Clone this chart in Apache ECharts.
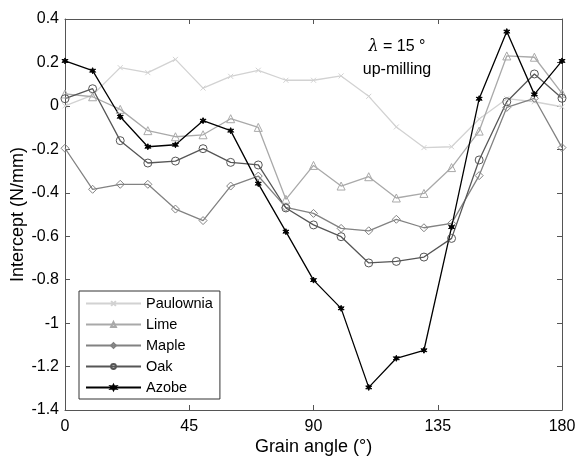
<!DOCTYPE html>
<html>
<head>
<meta charset="utf-8">
<script src="https://cdn.jsdelivr.net/npm/echarts@6/dist/echarts.min.js"></script>
<style>html,body{margin:0;padding:0;background:#fff}#c{width:577px;height:460px}</style>
</head>
<body>
<div id="c"></div>
<script>
const angles = [0,10,20,30,40,50,60,70,80,90,100,110,120,130,140,150,160,170,180];
const paulownia = [0.00,0.05,0.176,0.153,0.214,0.082,0.136,0.164,0.118,0.118,0.138,0.044,-0.097,-0.192,-0.188,-0.06,0.033,0.019,-0.004];
const lime = [0.055,0.042,-0.016,-0.114,-0.142,-0.133,-0.059,-0.099,-0.43,-0.274,-0.369,-0.326,-0.424,-0.403,-0.284,-0.116,0.23,0.224,0.058];
const maple = [-0.195,-0.384,-0.361,-0.361,-0.475,-0.528,-0.369,-0.323,-0.467,-0.495,-0.564,-0.575,-0.522,-0.561,-0.541,-0.321,-0.007,0.035,-0.192];
const oak = [0.033,0.079,-0.16,-0.263,-0.254,-0.197,-0.26,-0.272,-0.47,-0.548,-0.602,-0.723,-0.716,-0.696,-0.61,-0.249,0.019,0.147,0.035];
const azobe = [0.207,0.162,-0.05,-0.188,-0.179,-0.068,-0.114,-0.358,-0.579,-0.802,-0.932,-1.296,-1.162,-1.125,-0.558,0.033,0.342,0.053,0.207];
const xTicks = [0,45,90,135,180];
const yTickLabels = ['-1.4','-1.2','-1','-0.8','-0.6','-0.4','-0.2','0','0.2','0.4'];
</script>
<script>
const font = 'Liberation Sans, Arial, Helvetica, sans-serif';
const axisCol = '#555';
function pts(arr){ return angles.map((a,i)=>[a,arr[i]]); }
const xPath = 'path://M0,0L10,10M10,0L0,10';
const starPath = 'path://M5,0L6.2,3L9.3,2.5L7.2,5L9.3,7.5L6.2,7L5,10L3.8,7L0.7,7.5L2.8,5L0.7,2.5L3.8,3Z';
function mk(name, data, color, symbol, size, filled){
  return {
    name, type:'line', data: pts(data), symbol, symbolSize: size,
    lineStyle:{color, width: 1.3},
    itemStyle:{color: filled ? color : 'rgba(0,0,0,0)', borderColor: color, borderWidth: 1},
    emphasis:{disabled:true}, animation:false
  };
}
const series = [
  mk('Paulownia', paulownia, '#d2d2d2', xPath, 5, false),
  mk('Lime', lime, '#a9a9a9', 'triangle', 8, false),
  mk('Maple', maple, '#828282', 'diamond', 8, false),
  mk('Oak', oak, '#565656', 'circle', 8, false),
  mk('Azobe', azobe, '#000000', starPath, 6, true)
];
const chart = echarts.init(document.getElementById('c'), null, {renderer:'canvas'});
chart.setOption({
  animation:false,
  backgroundColor:'#fff',
  grid:{left:65, right:15, top:19, bottom:50, containLabel:false, outerBoundsMode:'none'},
  legend:{
    orient:'vertical', left:79, top:291,
    itemWidth:55, itemHeight:6, itemGap:6,
    padding:[5,7,4,6],
    borderColor:'#333', borderWidth:1,
    backgroundColor:'#fff',
    textStyle:{fontFamily:font, fontSize:14.5, color:'#000', padding:[0,0,0,0]},
    data:['Paulownia','Lime','Maple','Oak','Azobe']
  },
  xAxis:[{
    type:'value', min:0, max:180, interval:45,
    name:'Grain angle (°)', nameLocation:'middle', nameGap:28, nameMoveOverlap:false,
    nameTextStyle:{fontFamily:font, fontSize:18, color:'#000'},
    axisLine:{onZero:false, lineStyle:{color:axisCol, width:1}},
    axisTick:{inside:true, length:5, lineStyle:{color:axisCol}},
    axisLabel:{fontFamily:font, fontSize:16, color:'#000', margin:9},
    splitLine:{show:false}
  },{
    type:'value', min:0, max:180, interval:45, position:'top',
    axisLine:{onZero:false, lineStyle:{color:axisCol, width:1}},
    axisTick:{inside:true, length:5, lineStyle:{color:axisCol}},
    axisLabel:{show:false}, splitLine:{show:false}
  }],
  yAxis:[{
    type:'value', min:-1.4, max:0.4, interval:0.2,
    name:'Intercept (N/mm)', nameLocation:'middle', nameGap:38, nameRotate:90, nameMoveOverlap:false,
    nameTextStyle:{fontFamily:font, fontSize:18, color:'#000'},
    axisLine:{show:true, onZero:false, lineStyle:{color:axisCol, width:1}},
    axisTick:{show:true, inside:true, length:5, lineStyle:{color:axisCol}},
    axisLabel:{fontFamily:font, fontSize:16, color:'#000', margin:6,
      formatter:(v)=>{ const idx = Math.round((v+1.4)/0.2); return yTickLabels[idx]; }},
    splitLine:{show:false}
  },{
    type:'value', min:-1.4, max:0.4, interval:0.2, position:'right',
    axisLine:{show:true, onZero:false, lineStyle:{color:axisCol, width:1}},
    axisTick:{show:true, inside:true, length:5, lineStyle:{color:axisCol}},
    axisLabel:{show:false}, splitLine:{show:false}
  }],
  graphic:[
    {type:'text', x:397, y:47, style:{text:'{i|λ} = 15 °', align:'center', verticalAlign:'middle', fontFamily:font, fontSize:16, fill:'#000',
      rich:{i:{fontStyle:'italic', fontFamily:'DejaVu Serif, serif', fontSize:16}}}},
    {type:'text', x:397, y:70, style:{text:'up-milling', align:'center', verticalAlign:'middle', fontFamily:font, fontSize:16, fill:'#000'}}
  ],
  series
});
</script>
</body>
</html>
